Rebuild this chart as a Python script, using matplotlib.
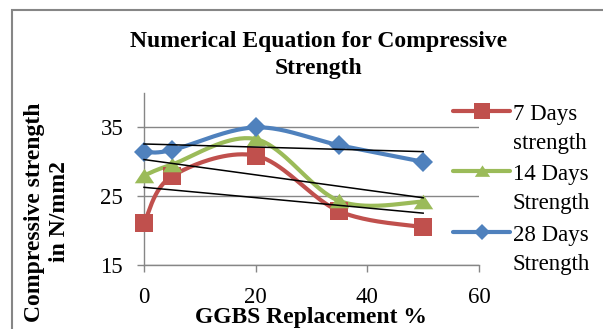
import numpy as np
import matplotlib
matplotlib.use("Agg")
import matplotlib.pyplot as plt
from matplotlib.lines import Line2D
from matplotlib.patches import Rectangle

plt.rcParams['font.family'] = ['Liberation Serif', 'DejaVu Serif']

# GGBS replacement (%) and compressive strength (N/mm2)
ggbs = [0, 5, 20, 35, 50]
days7 = [21.1, 27.9, 30.9, 22.8, 20.5]
days14 = [28.0, 29.6, 33.3, 24.3, 24.2]
days28 = [31.4, 31.7, 35.0, 32.4, 30.0]

labels = ['7 Days\nstrength', '14 Days\nStrength', '28 Days\nStrength']
colors = ['#C0504D', '#9BBB59', '#4F81BD']
yticks = [15, 25, 35]
xticks = [0, 20, 40, 60]

tri = [(-1, -0.7), (1, -0.7), (0, 0.8), (-1, -0.7)]
markers = ['s', tri, 'D']
msizes = [13.5, 14, 10]

W, H = 603, 329


def smooth(xs, ys, n=40):
    # Catmull-Rom style bezier smoothing (like "smoothed line" in a spreadsheet)
    p = np.column_stack([xs, ys]).astype(float)
    p = np.vstack([p[0], p, p[-1]])
    out = []
    t = np.linspace(0, 1, n)[:, None]
    for i in range(1, len(p) - 2):
        p0, p1, p2, p3 = p[i - 1], p[i], p[i + 1], p[i + 2]
        c1 = p1 + (p2 - p0) / 6
        c2 = p2 - (p3 - p1) / 6
        seg = ((1 - t) ** 3) * p1 + 3 * ((1 - t) ** 2) * t * c1 + 3 * (1 - t) * t ** 2 * c2 + t ** 3 * p2
        out.append(seg if i == 1 else seg[1:])
    out = np.vstack(out)
    return out[:, 0], out[:, 1]


fig = plt.figure(figsize=(W / 100, H / 100), dpi=100)
ax = fig.add_axes([144 / W, (H - 265) / H, (479 - 144) / W, (265 - 93) / H])

series = [days7, days14, days28]
for vals, c, m, ms in zip(series, colors, markers, msizes):
    sx, sy = smooth(ggbs, vals)
    ax.plot(sx, sy, color=c, lw=3, solid_capstyle='round', zorder=3, clip_on=False)
    ax.plot(ggbs, vals, ls='none', marker=m, markersize=ms, color=c, markeredgewidth=0,
            zorder=4, clip_on=False)

# linear trendlines
xx = np.array([ggbs[0], ggbs[-1]])
for vals in series:
    k, b = np.polyfit(ggbs, vals, 1)
    ax.plot(xx, k * xx + b, color='black', lw=1.1, zorder=5, clip_on=False)

ax.set_xlim(0, 60)
ax.set_ylim(15, 40)
ax.set_xticks(xticks)
ax.set_yticks(yticks)
ax.yaxis.grid(True, color='#868686', lw=1)
ax.set_axisbelow(True)
for s in ['top', 'right']:
    ax.spines[s].set_visible(False)
for s in ['left', 'bottom']:
    ax.spines[s].set_color('#868686')
    ax.spines[s].set_linewidth(1)
ax.tick_params(axis='both', colors='#868686', labelcolor='black', labelsize=16.5,
               length=5, width=1, direction='out')
ax.tick_params(axis='x', pad=10.5)
ax.tick_params(axis='y', pad=10)

fig.text(319 / W, 1 - 31 / H, 'Numerical Equation for Compressive\nStrength',
         ha='center', va='top', fontsize=17, fontweight='bold', linespacing=1.35)
fig.text(47 / W, 1 - 212 / H, 'Compressive strength\nin N/mm2', rotation=90,
         ha='center', va='center', fontsize=17, fontweight='bold', linespacing=1.25)
fig.text(311 / W, 1 - 323 / H, 'GGBS Replacement %', ha='center', va='baseline',
         fontsize=17, fontweight='bold')

# legend drawn by hand: handle line + marker, two-line label
leg_y = [111, 171, 232]
for y, lab, c, m in zip(leg_y, labels, colors, markers):
    fy = 1 - y / H
    fig.add_artist(Line2D([453 / W, 510 / W], [fy, fy], transform=fig.transFigure,
                          color=c, lw=3, solid_capstyle='round'))
    fig.add_artist(Line2D([482 / W], [fy], transform=fig.transFigure, ls='none',
                          marker=m, markersize=11 if m != 'D' else 8, color=c,
                          markeredgewidth=0))
    fig.text(513 / W, 1 - (y - 7) / H, lab, ha='left', va='top', fontsize=16.5,
             linespacing=1.5)

# chart frame
fig.add_artist(Rectangle((12 / W, -0.1), 1.2, 1 - 10 / H + 0.1, transform=fig.transFigure,
                         fill=False, edgecolor='#868686', lw=1.5))

fig.savefig('out.png', dpi=100)
